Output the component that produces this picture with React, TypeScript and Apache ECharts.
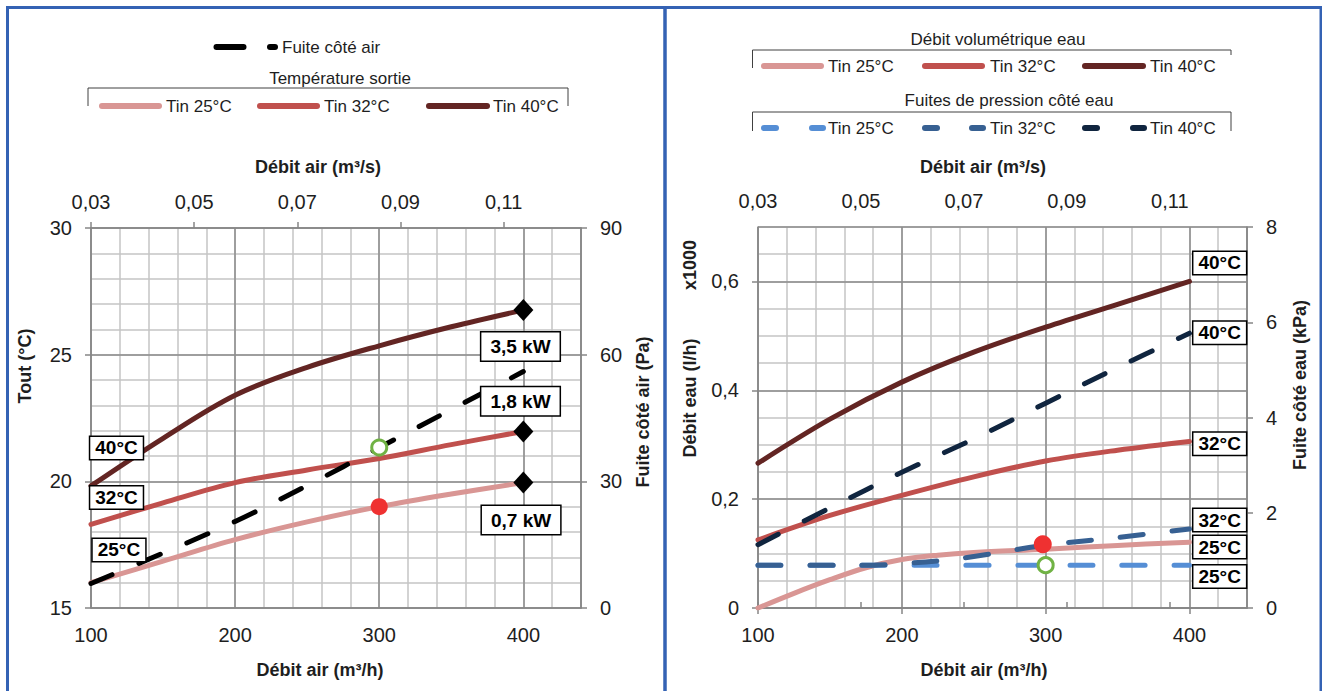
import React, { useEffect, useRef } from "react";
import * as echarts from "echarts";

// ---------- DATA ----------
const airflow = [100, 150, 200, 250, 300, 350, 400];
// Left chart: outlet temperature (°C)
const tout25 = [16.0, 16.85, 17.7, 18.4, 19.0, 19.5, 19.95];
const tout32 = [18.3, 19.15, 19.95, 20.45, 20.9, 21.45, 21.97];
const tout40 = [19.82, 21.7, 23.4, 24.5, 25.35, 26.1, 26.76];
// Left chart: air side pressure drop (Pa)
const fuiteAir = [5.8, 13, 20.5, 29, 38, 47, 56];

// Right chart: water flow (x1000 l/h)
const airflowDebit25 = [100, 125, 150, 175, 200, 225, 250, 300, 350, 400];
const debit25 = [0, 0.027, 0.052, 0.074, 0.089, 0.097, 0.102, 0.108, 0.115, 0.121];
const debit32 = [0.125, 0.17, 0.207, 0.241, 0.27, 0.29, 0.306];
const debit40 = [0.266, 0.347, 0.415, 0.47, 0.516, 0.558, 0.6];
// Right chart: water side pressure drop (kPa)
const fuiteEau25 = [0.9, 0.9, 0.9, 0.9, 0.9, 0.9, 0.9];
const airflowFuite32 = [100, 150, 180, 200, 225, 250, 300, 350, 400];
const fuiteEau32 = [0.9, 0.9, 0.9, 0.93, 0.99, 1.08, 1.32, 1.48, 1.66];
const fuiteEau40 = [1.33, 2.1, 2.85, 3.55, 4.3, 5.05, 5.77];

// Highlighted points
const redDotRight = [298, 0.117];

// Tick labels of the m³/s axes
const topTicks = ["0,03", "0,05", "0,07", "0,09", "0,11"];

// Annotation tags
const leftTagText = ["40°C", "32°C", "25°C", "3,5 kW", "1,8 kW", "0,7 kW"];
const leftTagX = [117.7, 117.7, 119.4, 398, 398, 398.4];
const leftTagY = [21.32, 19.36, 17.29, 25.32, 23.16, 18.47];
const rightTagText = ["40°C", "40°C", "32°C", "32°C", "25°C", "25°C"];
const rightTagX = [421, 421, 421, 421, 421, 421];
const rightTagY = [0.634, 0.5055, 0.302, 0.1615, 0.112, 0.058];

// ---------- STYLE ----------
const FONT = "Liberation Sans";
const AXC = "#868686";
const MAJ = "#8c8c8c";
const MIN = "#c4c4c4";
const TXT = "#1e1e1e";
const COL25 = "#d99694";
const COL32 = "#c0504d";
const COL40 = "#632523";
const BLUE25 = "#558ed5";
const BLUE32 = "#376092";
const BLUE40 = "#10253f";
const DASH = [23, 29];

const comma = (v: number) => String(v).replace(".", ",");

function minorX(grid: number) {
  return {
    type: "value", gridIndex: grid, position: "bottom", min: 100, max: 440, interval: 20, z: 0,
    axisLine: { show: false }, axisTick: { show: false }, axisLabel: { show: false },
    splitLine: { show: true, lineStyle: { color: MIN, width: 1.5 } },
  };
}
function mainX(grid: number, ticks: boolean) {
  return {
    type: "value", gridIndex: grid, position: "bottom", min: 100, max: 440, interval: 100, z: 1,
    axisLine: { show: true, lineStyle: { color: AXC, width: 1.5 } },
    axisTick: { show: ticks, length: 6, lineStyle: { color: AXC, width: 1.5 } },
    axisLabel: { fontSize: 20, color: TXT, margin: 17, showMaxLabel: false, fontFamily: FONT },
    splitLine: { show: true, lineStyle: { color: MAJ, width: 1.5 } },
  };
}
function topX(grid: number) {
  return {
    type: "value", gridIndex: grid, position: "top", min: 0.03, max: 0.125, interval: 0.02, z: 1,
    axisLine: { show: true, lineStyle: { color: AXC, width: 1.5 } },
    axisTick: { show: true, length: 6, lineStyle: { color: AXC, width: 1.5 } },
    axisLabel: {
      fontSize: 20, color: TXT, margin: 16, showMaxLabel: false, fontFamily: FONT,
      formatter: (v: number) => {
        const i = Math.round((v - 0.03) / 0.02);
        return topTicks[i] ?? "";
      },
    },
    splitLine: { show: false },
  };
}
function minorY(grid: number, min: number, max: number, interval: number) {
  return {
    type: "value", gridIndex: grid, position: "left", min, max, interval, z: 0,
    axisLine: { show: false }, axisTick: { show: false }, axisLabel: { show: false },
    splitLine: { show: true, lineStyle: { color: MIN, width: 1.5 } },
  };
}
function mainY(grid: number, min: number, max: number, interval: number, pos: string, split: boolean) {
  return {
    type: "value", gridIndex: grid, position: pos, min, max, interval, z: 1,
    axisLine: { show: true, lineStyle: { color: AXC, width: 1.5 } },
    axisTick: { show: true, length: 6, lineStyle: { color: AXC, width: 1.5 } },
    axisLabel: { fontSize: 20, color: TXT, margin: 19, showMaxLabel: false, fontFamily: FONT, formatter: comma },
    splitLine: { show: split, lineStyle: { color: MAJ, width: 1.5 } },
  };
}
function mainYWithMax(grid: number, min: number, max: number, interval: number, pos: string, split: boolean) {
  const a: any = mainY(grid, min, max, interval, pos, split);
  a.axisLabel.showMaxLabel = true;
  return a;
}

function lineSeries(name: string, xs: number[], ys: number[], xi: number, yi: number, color: string, dashed: boolean) {
  return {
    name, type: "line", xAxisIndex: xi, yAxisIndex: yi, smooth: 0.35, symbol: "none", silent: true, z: dashed ? 4 : 3,
    data: xs.map((x, i) => [x, ys[i]]),
    lineStyle: { color, width: 5, type: dashed ? DASH : "solid", cap: "round", join: "round" },
    itemStyle: { color },
  };
}

function tagSeries(xi: number, yi: number, texts: string[], xs: number[], ys: number[]) {
  return {
    type: "scatter", xAxisIndex: xi, yAxisIndex: yi, symbolSize: 0, z: 10, silent: true,
    itemStyle: { opacity: 1 },
    data: texts.map((t, i) => ({
      name: t, value: [xs[i], ys[i]],
      label: { padding: t.indexOf("kW") >= 0 ? [5, 9, 4, 9] : [2, 5, 1, 5] },
    })),
    label: {
      show: true, position: "inside", formatter: "{b}", color: "#000", fontSize: 19, fontWeight: "bold",
      fontFamily: FONT, backgroundColor: "#fff", borderColor: "#000", borderWidth: 1.5, opacity: 1,
    },
  };
}

// graphic helpers
const gl = (x1: number, y1: number, x2: number, y2: number, stroke: string, w: number) => ({
  type: "line", silent: true, shape: { x1, y1, x2, y2 }, style: { stroke, lineWidth: w, lineCap: "round" },
});
const gt = (x: number, y: number, text: string, o: any = {}) => ({
  type: "text", silent: true, x, y, rotation: o.rot || 0,
  style: {
    text, fill: TXT, fontSize: o.size || 17, fontFamily: FONT, fontWeight: o.bold ? "bold" : "normal",
    align: o.align || "left", verticalAlign: "middle",
  },
});
const bracket = (x1: number, x2: number, top: number, bl: number, br: number) => ({
  type: "polyline", silent: true,
  shape: { points: [[x1, bl], [x1, top], [x2, top], [x2, br]] },
  style: { stroke: "#404040", lineWidth: 1, fill: null },
});

export default function App() {
  const ref = useRef<HTMLDivElement>(null);
  useEffect(() => {
    const chart = echarts.init(ref.current!, null, { renderer: "svg" });
    const option: any = {
      animation: false,
      backgroundColor: "#fff",
      textStyle: { fontFamily: FONT },
      grid: [
        { left: 91, top: 228, width: 490, height: 380 },
        { left: 758, top: 227, width: 489, height: 381 },
      ],
      xAxis: [minorX(0), mainX(0, false), topX(0), minorX(1), mainX(1, true), topX(1)],
      yAxis: [
        minorY(0, 15, 30, 1),
        mainYWithMax(0, 15, 30, 5, "left", true),
        mainYWithMax(0, 0, 90, 30, "right", false),
        minorY(1, 0, 0.7, 0.05),
        mainY(1, 0, 0.7, 0.2, "left", true),
        mainYWithMax(1, 0, 8, 2, "right", false),
      ],
      series: [
        // left chart
        lineSeries("Tout Tin 25°C", airflow, tout25, 1, 1, COL25, false),
        lineSeries("Tout Tin 32°C", airflow, tout32, 1, 1, COL32, false),
        lineSeries("Tout Tin 40°C", airflow, tout40, 1, 1, COL40, false),
        lineSeries("Fuite côté air", airflow, fuiteAir, 1, 2, "#000000", true),
        {
          type: "scatter", xAxisIndex: 1, yAxisIndex: 1, symbol: "diamond", symbolSize: [20, 22], z: 6, silent: true,
          itemStyle: { color: "#000", opacity: 1 },
          data: [[400, tout40[6]], [400, tout32[6]], [400, tout25[6]]],
        },
        {
          type: "scatter", xAxisIndex: 1, yAxisIndex: 1, symbol: "circle", symbolSize: 17, z: 6, silent: true,
          itemStyle: { color: "#ef3131", opacity: 1 }, data: [[airflow[4], tout25[4]]],
        },
        {
          type: "scatter", xAxisIndex: 1, yAxisIndex: 2, symbol: "circle", symbolSize: 15, z: 6, silent: true,
          itemStyle: { color: "#fff", borderColor: "#70b244", borderWidth: 3, opacity: 1 }, data: [[airflow[4], fuiteAir[4]]],
        },
        tagSeries(1, 1, leftTagText, leftTagX, leftTagY),
        // right chart
        lineSeries("Débit Tin 25°C", airflowDebit25, debit25, 4, 4, COL25, false),
        lineSeries("Débit Tin 32°C", airflow, debit32, 4, 4, COL32, false),
        lineSeries("Débit Tin 40°C", airflow, debit40, 4, 4, COL40, false),
        lineSeries("Fuite eau Tin 25°C", airflow, fuiteEau25, 4, 5, BLUE25, true),
        lineSeries("Fuite eau Tin 32°C", airflowFuite32, fuiteEau32, 4, 5, BLUE32, true),
        lineSeries("Fuite eau Tin 40°C", airflow, fuiteEau40, 4, 5, BLUE40, true),
        {
          type: "scatter", xAxisIndex: 4, yAxisIndex: 4, symbol: "circle", symbolSize: 18, z: 6, silent: true,
          itemStyle: { color: "#ef3131", opacity: 1 }, data: [redDotRight],
        },
        {
          type: "scatter", xAxisIndex: 4, yAxisIndex: 5, symbol: "circle", symbolSize: 15, z: 6, silent: true,
          itemStyle: { color: "#fff", borderColor: "#70b244", borderWidth: 3, opacity: 1 }, data: [[airflow[4], fuiteEau25[4]]],
        },
        tagSeries(4, 4, rightTagText, rightTagX, rightTagY),
      ],
      graphic: [
        // panel frames
        { type: "rect", silent: true, shape: { x: 7.5, y: 7.5, width: 657.5, height: 720 }, style: { fill: "none", stroke: "#3462b4", lineWidth: 3 } },
        { type: "rect", silent: true, shape: { x: 665, y: 7.5, width: 656, height: 720 }, style: { fill: "none", stroke: "#3462b4", lineWidth: 3 } },
        // left legend
        gl(216.5, 47, 243.5, 47, "#000", 6),
        gl(270, 47, 275, 47, "#000", 6),
        gt(282, 47, "Fuite côté air"),
        gt(340, 78, "Température sortie", { align: "center" }),
        bracket(88, 568, 88, 106, 106),
        gl(102, 106, 159, 106, COL25, 6),
        gt(166, 106, "Tin 25°C"),
        gl(260, 106, 317, 106, COL32, 6),
        gt(324, 106, "Tin 32°C"),
        gl(429, 106, 487, 106, COL40, 6),
        gt(493, 106, "Tin 40°C"),
        // right legend
        gt(998, 39, "Débit volumétrique eau", { align: "center" }),
        bracket(752.5, 1231, 50, 68, 55),
        gl(764, 66, 821, 66, COL25, 6),
        gt(828, 66, "Tin 25°C"),
        gl(925, 66, 982, 66, COL32, 6),
        gt(990, 66, "Tin 32°C"),
        gl(1085, 66, 1143, 66, COL40, 6),
        gt(1150, 66, "Tin 40°C"),
        gt(1009, 100, "Fuites de pression côté eau", { align: "center" }),
        bracket(752.5, 1231, 112, 131, 131),
        gl(764, 128, 776, 128, BLUE25, 6),
        gl(812, 128, 823, 128, BLUE25, 6),
        gt(828, 128, "Tin 25°C"),
        gl(925, 128, 937, 128, BLUE32, 6),
        gl(972, 128, 983, 128, BLUE32, 6),
        gt(990, 128, "Tin 32°C"),
        gl(1085, 128, 1097, 128, BLUE40, 6),
        gl(1133, 128, 1144, 128, BLUE40, 6),
        gt(1150, 128, "Tin 40°C"),
        // axis titles
        gt(318, 167, "Débit air (m³/s)", { align: "center", bold: true, size: 18 }),
        gt(320, 670, "Débit air (m³/h)", { align: "center", bold: true, size: 18 }),
        gt(25, 366, "Tout (°C)", { align: "center", bold: true, size: 18, rot: Math.PI / 2 }),
        gt(643, 412, "Fuite côté air (Pa)", { align: "center", bold: true, size: 18, rot: Math.PI / 2 }),
        gt(983, 167, "Débit air (m³/s)", { align: "center", bold: true, size: 18 }),
        gt(984, 670, "Débit air (m³/h)", { align: "center", bold: true, size: 18 }),
        gt(690, 398, "Débit eau (l/h)", { align: "center", bold: true, size: 18, rot: Math.PI / 2 }),
        gt(690, 265, "x1000", { align: "center", bold: true, size: 18, rot: Math.PI / 2 }),
        gt(1300, 385, "Fuite côté eau (kPa)", { align: "center", bold: true, size: 18, rot: Math.PI / 2 }),
      ],
    };
    chart.setOption(option);
    return () => chart.dispose();
  }, []);
  return (
    <div
      ref={ref}
      style={{ position: "fixed", left: 0, top: 0, width: 1322, height: 691, background: "#fff" }}
    />
  );
}
